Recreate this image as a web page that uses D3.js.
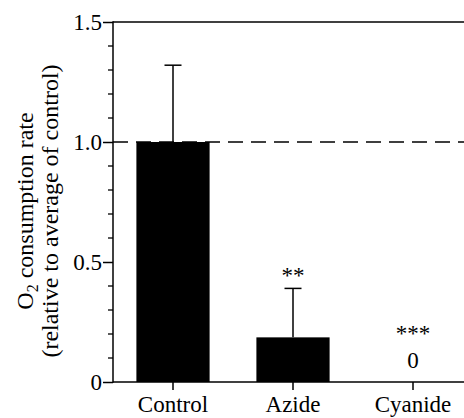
<!DOCTYPE html>
<html>
<head>
<meta charset="utf-8">
<script src="https://cdn.jsdelivr.net/npm/d3@7"></script>
</head>
<body style="margin:0">
<script>
// data
var categories = ["Control", "Azide", "Cyanide"];
var means = [1.0, 0.186, 0];
var errors = [0.32, 0.204, 0];
var stars = ["", "**", "***"];
var majorTicks = [0, 0.5, 1.0, 1.5];
var tickLabels = ["0", "0.5", "1.0", "1.5"];
var minorTicks = [0.1, 0.2, 0.3, 0.4, 0.6, 0.7, 0.8, 0.9, 1.1, 1.2, 1.3, 1.4];
var refLine = 1.0;

var width = 464, height = 418;
var margin = { top: 22, right: 0, bottom: 36, left: 113 };
var font = "'Liberation Serif'";

var svg = d3.select("body").append("svg")
    .attr("width", width)
    .attr("height", height);

var x = d3.scaleBand()
    .domain(categories)
    .range([margin.left, margin.left + 360])
    .paddingInner(0.39)
    .paddingOuter(0.195);

var y = d3.scaleLinear()
    .domain([0, 1.5])
    .range([height - margin.bottom, margin.top]);

var g = svg.append("g");

// dashed reference line at control average
g.append("line")
    .attr("x1", margin.left).attr("x2", width)
    .attr("y1", y(refLine)).attr("y2", y(refLine))
    .style("stroke", "#000").style("stroke-width", 1.3)
    .style("stroke-dasharray", "15,8");

// top frame line
g.append("line")
    .attr("x1", margin.left).attr("x2", width)
    .attr("y1", y(1.5)).attr("y2", y(1.5))
    .style("stroke", "#000").style("stroke-width", 1.5);

// bars
g.selectAll("rect.bar").data(categories)
    .enter().append("rect")
    .attr("class", "bar")
    .attr("x", function (d) { return x(d); })
    .attr("width", x.bandwidth())
    .attr("y", function (d, i) { return y(means[i]); })
    .attr("height", function (d, i) { return y(0) - y(means[i]); })
    .attr("fill", "#000");

// error bars (upper only)
var cx = function (d) { return x(d) + x.bandwidth() / 2; };
var withErr = categories.filter(function (d, i) { return errors[i] > 0; });

g.selectAll("line.err").data(withErr)
    .enter().append("line")
    .attr("class", "err")
    .attr("x1", cx).attr("x2", cx)
    .attr("y1", function (d) { return y(means[categories.indexOf(d)]); })
    .attr("y2", function (d) { var i = categories.indexOf(d); return y(means[i] + errors[i]); })
    .style("stroke", "#000").style("stroke-width", 1.5);

g.selectAll("line.cap").data(withErr)
    .enter().append("line")
    .attr("class", "cap")
    .attr("x1", function (d) { return cx(d) - 8.5; })
    .attr("x2", function (d) { return cx(d) + 8.5; })
    .attr("y1", function (d) { var i = categories.indexOf(d); return y(means[i] + errors[i]); })
    .attr("y2", function (d) { var i = categories.indexOf(d); return y(means[i] + errors[i]); })
    .style("stroke", "#000").style("stroke-width", 1.5);

// zero value labels
g.selectAll("text.zero").data(categories.filter(function (d, i) { return means[i] === 0; }))
    .enter().append("text")
    .attr("class", "zero")
    .attr("x", cx)
    .attr("y", y(0) - 14)
    .attr("text-anchor", "middle")
    .style("font-family", font)
    .style("font-size", "23px")
    .text("0");

// significance stars
g.selectAll("text.star").data(categories)
    .enter().append("text")
    .attr("class", "star")
    .attr("x", cx)
    .attr("y", function (d, i) {
        if (means[i] === 0) return y(0) - 41;
        return y(means[i] + errors[i]) - 5;
    })
    .attr("text-anchor", "middle")
    .style("font-family", font)
    .style("font-size", "23px")
    .text(function (d, i) { return stars[i]; });

// y axis
var yAxis = d3.axisLeft(y)
    .tickValues(majorTicks)
    .tickFormat(function (d, i) { return tickLabels[i]; })
    .tickSize(10)
    .tickPadding(1);

var ya = svg.append("g")
    .attr("transform", "translate(" + margin.left + ",0)")
    .call(yAxis)
    .attr("font-family", null)
    .attr("font-size", null);
ya.select(".domain").remove();
ya.selectAll(".tick line").style("stroke-width", 1.5);
ya.selectAll(".tick text")
    .style("font-family", font)
    .style("font-size", "23px");

ya.selectAll("line.minor").data(minorTicks)
    .enter().append("line")
    .attr("class", "minor")
    .attr("x1", -5).attr("x2", 0)
    .attr("y1", function (d) { return y(d); })
    .attr("y2", function (d) { return y(d); })
    .style("stroke", "#000").style("stroke-width", 1.3);

ya.append("line")
    .attr("x1", 0).attr("x2", 0)
    .attr("y1", y(1.5) - 0.75).attr("y2", y(0) + 0.75)
    .style("stroke", "#000").style("stroke-width", 1.5);

// x axis
var xAxis = d3.axisBottom(x)
    .tickSize(8)
    .tickPadding(6);

var xa = svg.append("g")
    .attr("transform", "translate(0," + y(0) + ")")
    .call(xAxis)
    .attr("font-family", null)
    .attr("font-size", null);
xa.select(".domain").remove();
xa.selectAll(".tick line").style("stroke-width", 1.5);
xa.selectAll(".tick text")
    .style("font-family", font)
    .style("font-size", "23px");

xa.append("line")
    .attr("x1", margin.left).attr("x2", width)
    .attr("y1", 0).attr("y2", 0)
    .style("stroke", "#000").style("stroke-width", 1.5);

// y label
var ylab = svg.append("text")
    .attr("transform", "translate(0,211) rotate(-90)")
    .attr("text-anchor", "middle")
    .style("font-family", font)
    .style("font-size", "24px");

var l1 = ylab.append("tspan").attr("x", 0).attr("y", 33);
l1.append("tspan").text("O");
l1.append("tspan").style("font-size", "16px").attr("dy", 5).text("2");
l1.append("tspan").attr("dy", -5).text(" consumption rate");

ylab.append("tspan").attr("x", 0).attr("y", 58)
    .text("(relative to average of control)");
</script>
</body>
</html>
